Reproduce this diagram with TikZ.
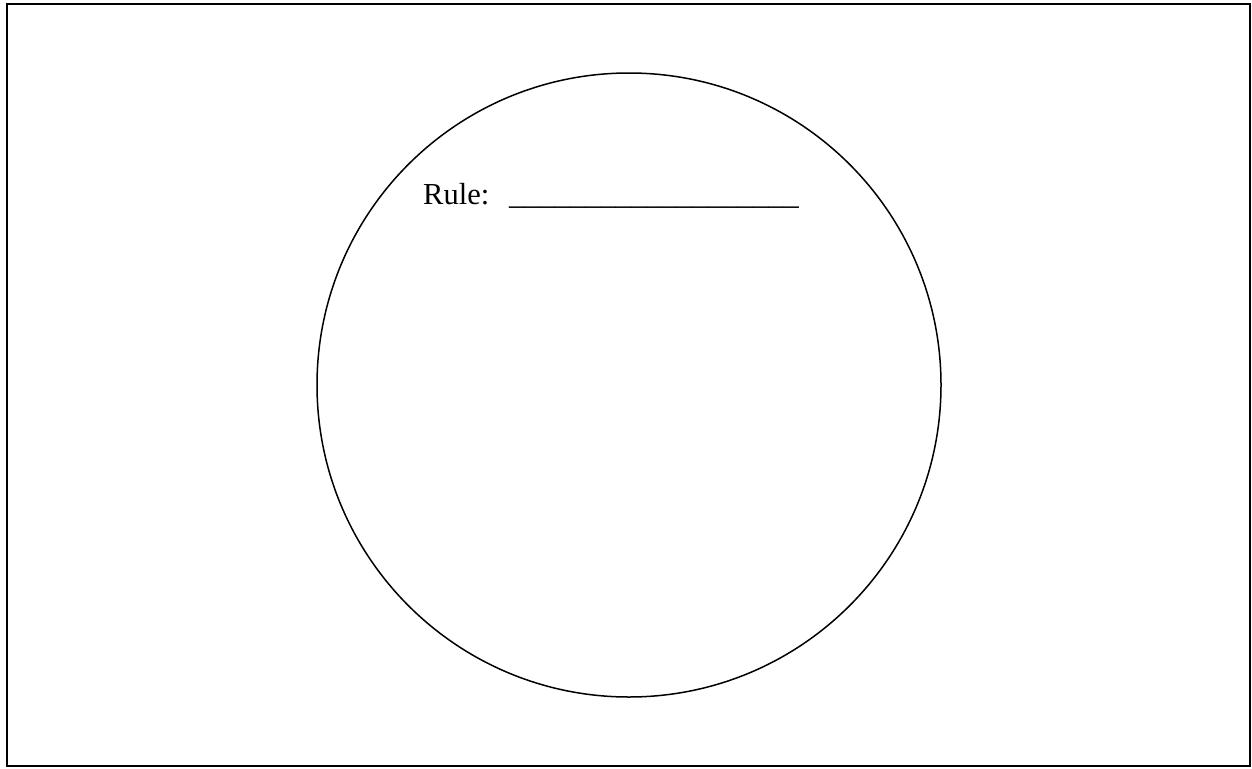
\documentclass[tikz,border=0pt]{standalone}
\usepackage{fontspec}
\setmainfont{Liberation Serif}
\begin{document}
\begin{tikzpicture}[x=1pt,y=-1pt,
  frame/.style={draw=black,line width=2pt},
  ring/.style={draw=black,line width=1.5pt},
  label/.style={font=\fontsize{30.5}{36}\selectfont,inner sep=0pt,anchor=base west}]
\useasboundingbox (0,0) rectangle (1252,768);
\draw[frame] (7,4.5) rectangle (1250,766);
\coordinate (c) at (629,385);
\draw[ring] (c) circle[radius=312];
\node[label] (rule) at (423,204) {Rule:\ \ \hspace{4.5pt}\_\_\_\_\_\_\_\_\_\_\_\_\_\_\_\_\_\_\_};
\end{tikzpicture}
\end{document}
